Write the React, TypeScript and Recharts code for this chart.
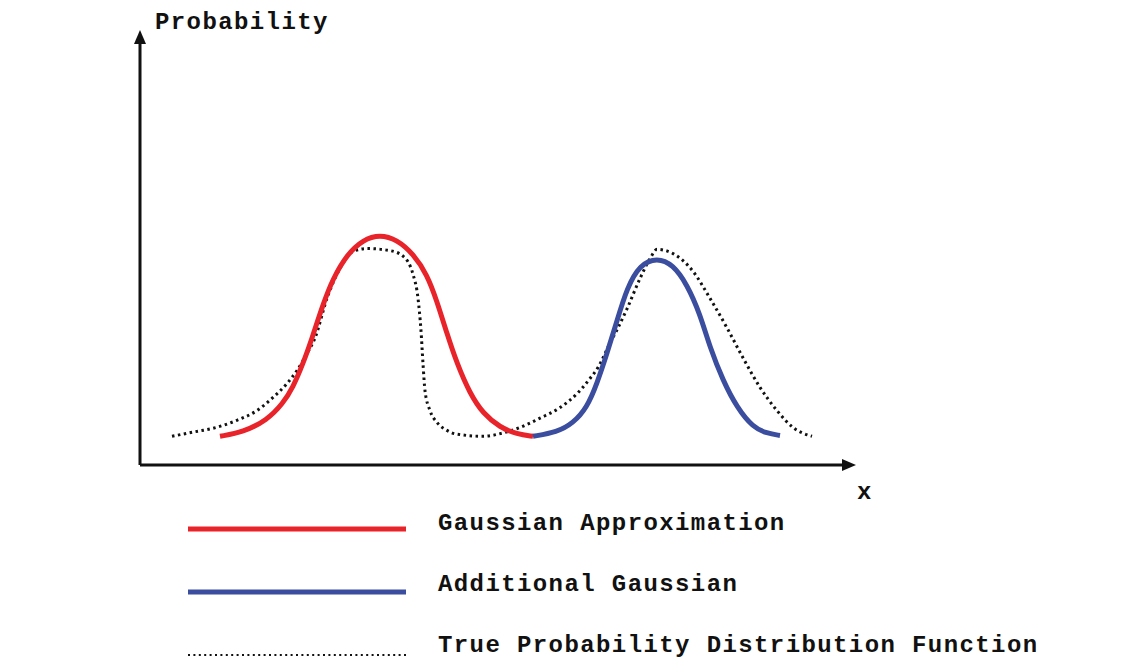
import { Line, LineChart, XAxis, YAxis } from "recharts";

// x: arbitrary units along the horizontal axis, y: probability (0..1 of the drawn height)
const gaussianApprox = [
  { x: 8.0, y: 0.068 },
  { x: 10.3, y: 0.078 },
  { x: 12.7, y: 0.106 },
  { x: 14.3, y: 0.146 },
  { x: 15.3, y: 0.184 },
  { x: 16.3, y: 0.24 },
  { x: 17.2, y: 0.3 },
  { x: 18.3, y: 0.381 },
  { x: 19.3, y: 0.442 },
  { x: 20.7, y: 0.499 },
  { x: 22.3, y: 0.534 },
  { x: 24.0, y: 0.546 },
  { x: 25.7, y: 0.534 },
  { x: 27.3, y: 0.501 },
  { x: 28.7, y: 0.452 },
  { x: 29.7, y: 0.388 },
  { x: 30.7, y: 0.311 },
  { x: 31.7, y: 0.24 },
  { x: 33.0, y: 0.169 },
  { x: 34.3, y: 0.122 },
  { x: 36.0, y: 0.089 },
  { x: 37.7, y: 0.073 },
  { x: 39.3, y: 0.068 },
];

const additionalGaussian = [
  { x: 39.3, y: 0.068 },
  { x: 41.7, y: 0.078 },
  { x: 43.3, y: 0.099 },
  { x: 44.7, y: 0.136 },
  { x: 45.7, y: 0.193 },
  { x: 46.7, y: 0.264 },
  { x: 47.7, y: 0.342 },
  { x: 48.7, y: 0.42 },
  { x: 50.0, y: 0.475 },
  { x: 51.7, y: 0.491 },
  { x: 53.3, y: 0.475 },
  { x: 54.7, y: 0.428 },
  { x: 56.0, y: 0.358 },
  { x: 57.0, y: 0.278 },
  { x: 58.3, y: 0.2 },
  { x: 59.7, y: 0.136 },
  { x: 61.3, y: 0.089 },
  { x: 62.7, y: 0.075 },
  { x: 64.0, y: 0.07 },
];

const truePdf = [
  { x: 3.2, y: 0.068 },
  { x: 5.3, y: 0.078 },
  { x: 7.3, y: 0.087 },
  { x: 9.7, y: 0.106 },
  { x: 11.7, y: 0.129 },
  { x: 13.3, y: 0.16 },
  { x: 14.7, y: 0.193 },
  { x: 15.7, y: 0.224 },
  { x: 16.7, y: 0.264 },
  { x: 17.5, y: 0.301 },
  { x: 18.7, y: 0.395 },
  { x: 20.0, y: 0.466 },
  { x: 21.3, y: 0.506 },
  { x: 22.7, y: 0.513 },
  { x: 25.0, y: 0.508 },
  { x: 26.3, y: 0.495 },
  { x: 27.3, y: 0.452 },
  { x: 27.8, y: 0.395 },
  { x: 28.1, y: 0.318 },
  { x: 28.3, y: 0.24 },
  { x: 28.5, y: 0.176 },
  { x: 29.0, y: 0.129 },
  { x: 29.7, y: 0.101 },
  { x: 30.7, y: 0.082 },
  { x: 31.5, y: 0.074 },
  { x: 34.3, y: 0.068 },
  { x: 36.3, y: 0.076 },
  { x: 38.0, y: 0.089 },
  { x: 40.0, y: 0.111 },
  { x: 42.0, y: 0.136 },
  { x: 43.7, y: 0.169 },
  { x: 45.0, y: 0.205 },
  { x: 45.8, y: 0.231 },
  { x: 47.0, y: 0.289 },
  { x: 47.8, y: 0.325 },
  { x: 48.7, y: 0.37 },
  { x: 50.0, y: 0.442 },
  { x: 51.0, y: 0.489 },
  { x: 51.7, y: 0.511 },
  { x: 53.3, y: 0.501 },
  { x: 55.3, y: 0.459 },
  { x: 57.0, y: 0.395 },
  { x: 58.7, y: 0.325 },
  { x: 60.3, y: 0.254 },
  { x: 62.0, y: 0.184 },
  { x: 63.7, y: 0.129 },
  { x: 65.3, y: 0.089 },
  { x: 67.2, y: 0.068 },
];

const RED = "#e8232a";
const BLUE = "#3a4d9e";
const MONO = "'Liberation Mono', 'Courier New', monospace";

const legendItems = [
  { label: "Gaussian Approximation", color: RED, dotted: false },
  { label: "Additional Gaussian", color: BLUE, dotted: false },
  { label: "True Probability Distribution Function", color: "#111", dotted: true },
];

const textStyle = {
  fontFamily: MONO,
  fontWeight: 700,
  fontSize: 24,
  lineHeight: "20px",
  letterSpacing: 1.4,
  color: "#111",
  whiteSpace: "nowrap" as const,
};

export default function App() {
  return (
    <div
      style={{
        position: "absolute",
        left: 0,
        top: 0,
        width: 1145,
        height: 661,
        background: "#fff",
        overflow: "hidden",
      }}
    >
      <svg width={0} height={0} style={{ position: "absolute" }}>
        <defs>
          <marker
            id="arrowHead"
            viewBox="0 0 14 12"
            refX={1}
            refY={6}
            markerWidth={14}
            markerHeight={12}
            markerUnits="userSpaceOnUse"
            orient="auto-start-reverse"
          >
            <path d="M0,0 L14,6 L0,12 Z" fill="#111" />
          </marker>
        </defs>
      </svg>

      <LineChart
        width={1145}
        height={661}
        margin={{ top: 43, right: 302, bottom: 195, left: 139 }}
      >
        <XAxis
          type="number"
          dataKey="x"
          domain={[0, 70.3]}
          height={1}
          tick={false}
          tickLine={false}
          axisLine={{ stroke: "#111", strokeWidth: 3, markerEnd: "url(#arrowHead)" }}
          allowDataOverflow
        />
        <YAxis
          type="number"
          dataKey="y"
          domain={[0, 1]}
          width={1}
          tick={false}
          tickLine={false}
          axisLine={{
            stroke: "#111",
            strokeWidth: 3,
            markerStart: "url(#arrowHead)",
          }}
          allowDataOverflow
        />
        <Line
          data={truePdf}
          dataKey="y"
          type="monotone"
          stroke="#111"
          strokeWidth={3}
          strokeDasharray="2.5 3.5"
          dot={false}
          isAnimationActive={false}
        />
        <Line
          data={gaussianApprox}
          dataKey="y"
          type="basis"
          stroke={RED}
          strokeWidth={5}
          dot={false}
          isAnimationActive={false}
        />
        <Line
          data={additionalGaussian}
          dataKey="y"
          type="basis"
          stroke={BLUE}
          strokeWidth={5}
          dot={false}
          isAnimationActive={false}
        />
      </LineChart>

      <div style={{ ...textStyle, position: "absolute", left: 155, top: 13 }}>Probability</div>
      <div style={{ ...textStyle, position: "absolute", left: 857, top: 483 }}>x</div>

      {legendItems.map((item, i) => (
        <div key={item.label}>
          <svg
            width={220}
            height={8}
            style={{ position: "absolute", left: 187, top: 525 + i * 63 }}
          >
            <line
              x1={1}
              x2={219}
              y1={4}
              y2={4}
              stroke={item.color}
              strokeWidth={item.dotted ? 2 : 5}
              strokeDasharray={item.dotted ? "2 3.4" : undefined}
            />
          </svg>
          <div
            style={{
              ...textStyle,
              position: "absolute",
              left: 438,
              top: 514 + i * 61,
            }}
          >
            {item.label}
          </div>
        </div>
      ))}
    </div>
  );
}
